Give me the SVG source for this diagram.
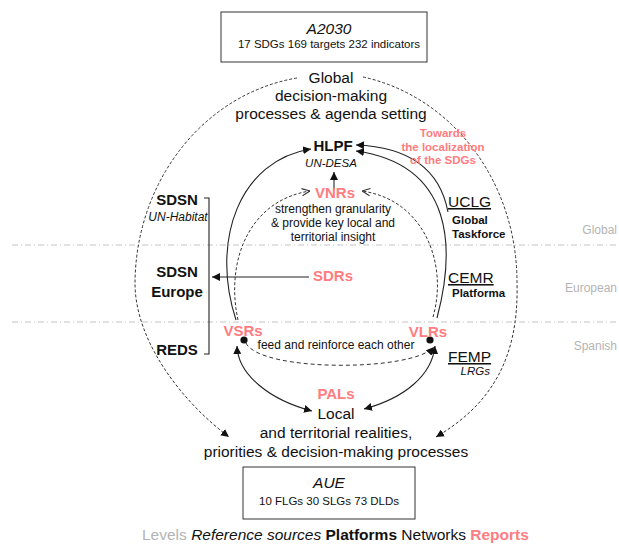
<svg xmlns="http://www.w3.org/2000/svg" width="619" height="545" viewBox="0 0 619 545">
<style>
text{font-family:"Liberation Sans",Arial,sans-serif;fill:#111}
.big{font-size:15.5px}
.b15{font-size:15px;font-weight:bold}
.sm{font-size:12px}
.s11{font-size:11.5px}
.it{font-style:italic}
.bd{font-weight:bold}
.pk{fill:#ff7c80}
.lv{fill:#b4b4b4;font-size:12px}
.c{text-anchor:middle}
.e{text-anchor:end}
.ul{text-decoration:underline}
.sol{fill:none;stroke:#222;stroke-width:1.1}
.dsh{fill:none;stroke:#333;stroke-width:1;stroke-dasharray:3,2}
.dsh2{fill:none;stroke:#333;stroke-width:1;stroke-dasharray:4,3}
.lvl{stroke:#c4c4c4;stroke-width:1;stroke-dasharray:6,3,1,3}
.box{fill:#fff;stroke:#333;stroke-width:1}
</style>
<defs>
<marker id="ah" viewBox="0 0 10 10" refX="10" refY="5" markerWidth="8" markerHeight="8" markerUnits="userSpaceOnUse" orient="auto-start-reverse">
<path d="M0,0 L10,5 L0,10 z" fill="#111"/>
</marker>
<marker id="op" viewBox="0 0 10 10" refX="10" refY="5" markerWidth="9" markerHeight="9" markerUnits="userSpaceOnUse" orient="auto">
<path d="M1,1 L10,5 L1,9" fill="none" stroke="#333" stroke-width="1.2"/>
</marker>
</defs>
<rect width="619" height="545" fill="#fff"/>

<g id="levels">
<line class="lvl" x1="12" y1="245" x2="617" y2="245"/>
<line class="lvl" x1="12" y1="322" x2="617" y2="322"/>
<text class="lv e" x="617" y="234">Global</text>
<text class="lv e" x="617" y="292">European</text>
<text class="lv e" x="617" y="350">Spanish</text>
</g>

<g id="connectors">
<path class="dsh" d="M297 78 A191 209 0 0 0 135 283 C135 340 180 400 229 437" marker-end="url(#ah)"/>
<path class="dsh" d="M363 77 A191 209 0 0 1 517 283 C519 360 490 405 436 437" marker-end="url(#ah)"/>
<path class="sol" d="M236 320 C210 240 240 160 311 149" marker-end="url(#ah)"/>
<path class="dsh" d="M238 320 C225 260 250 200 310 191" marker-end="url(#op)"/>
<path class="dsh" d="M433 317 C448 265 425 200 362 191" marker-end="url(#op)"/>
<path class="sol" d="M437 318 C455 250 455 165 356 151" marker-end="url(#ah)"/>
<path class="sol" d="M448 212 C440 170 410 147 356 145" marker-end="url(#ah)"/>
<line class="sol" x1="334" y1="190" x2="334" y2="172" marker-end="url(#ah)"/>
<line class="sol" x1="309" y1="277" x2="212" y2="277" marker-end="url(#ah)"/>
<path class="sol" d="M204 198 H209 V354 H204"/>
<path class="sol" d="M237 346 C238 375 270 400 312 411" marker-start="url(#ah)" marker-end="url(#ah)"/>
<path class="sol" d="M435 346 C432 375 405 398 364 409" marker-start="url(#ah)" marker-end="url(#ah)"/>
<path class="dsh2" d="M246 343 C260 372 412 372 434 347" marker-end="url(#ah)"/>
<circle cx="244" cy="340" r="3.6" fill="#111"/>
<circle cx="430" cy="340" r="3.6" fill="#111"/>
</g>

<g id="a2030">
<rect class="box" x="221" y="12" width="206" height="50"/>
<text class="big it c" x="329" y="34">A2030</text>
<text class="s11 c" x="329" y="48">17 SDGs 169 targets 232 indicators</text>
</g>

<g id="global-processes">
<text class="big c" x="331" y="83">Global</text>
<text class="big c" x="331" y="101">decision-making</text>
<text class="big c" x="331" y="119">processes &amp; agenda setting</text>
</g>

<g id="hlpf">
<text class="b15 c" x="333" y="151">HLPF</text>
<text class="s11 it c" x="331" y="167">UN-DESA</text>
</g>

<g id="towards">
<text class="s11 bd pk c" x="443" y="137">Towards</text>
<text class="s11 bd pk c" x="443" y="151">the localization</text>
<text class="s11 bd pk c" x="443" y="164">of the SDGs</text>
</g>

<g id="vnrs">
<text class="b15 pk c" x="335" y="198">VNRs</text>
<text class="sm c" x="333" y="213">strengthen granularity</text>
<text class="sm c" x="333" y="227">&amp; provide key local and</text>
<text class="sm c" x="333" y="241">territorial insight</text>
</g>

<g id="sdsn">
<text class="b15 c" x="177" y="205">SDSN</text>
<text class="sm it c" x="178" y="221">UN-Habitat</text>
</g>
<g id="sdsn-europe">
<text class="b15 c" x="177" y="277">SDSN</text>
<text class="b15 c" x="177" y="297">Europe</text>
</g>
<g id="reds">
<text class="b15 c" x="177" y="355">REDS</text>
</g>

<g id="sdrs">
<text class="b15 pk c" x="333" y="281">SDRs</text>
</g>

<g id="uclg">
<text class="big ul" x="448" y="207">UCLG</text>
<text class="s11 bd" x="452" y="224">Global</text>
<text class="s11 bd" x="452" y="238">Taskforce</text>
</g>
<g id="cemr">
<text class="big ul" x="448" y="283">CEMR</text>
<text class="s11 bd" x="452" y="297">Platforma</text>
</g>
<g id="femp">
<text class="big ul" x="448" y="362">FEMP</text>
<text class="s11 it e" x="490" y="375">LRGs</text>
</g>

<g id="vsrs">
<text class="b15 pk c" x="243" y="336">VSRs</text>
</g>
<g id="vlrs">
<text class="b15 pk c" x="428" y="337">VLRs</text>
</g>
<g id="feed">
<text class="sm c" x="336" y="349">feed and reinforce each other</text>
</g>

<g id="pals">
<text class="b15 pk c" x="336" y="399">PALs</text>
</g>
<g id="local">
<text class="big c" x="336" y="419">Local</text>
<text class="big c" x="336" y="438">and territorial realities,</text>
<text class="big c" x="336" y="457">priorities &amp; decision-making processes</text>
</g>

<g id="aue">
<rect class="box" x="243" y="467" width="172" height="52"/>
<text class="big it c" x="329" y="488">AUE</text>
<text class="s11 c" x="329" y="505">10 FLGs 30 SLGs 73 DLDs</text>
</g>

<g id="legend">
<text class="big" x="142" y="540"><tspan fill="#b4b4b4">Levels</tspan> <tspan font-style="italic">Reference sources</tspan> <tspan font-weight="bold">Platforms</tspan> Networks <tspan font-weight="bold" fill="#ff7c80">Reports</tspan></text>
</g>
</svg>
